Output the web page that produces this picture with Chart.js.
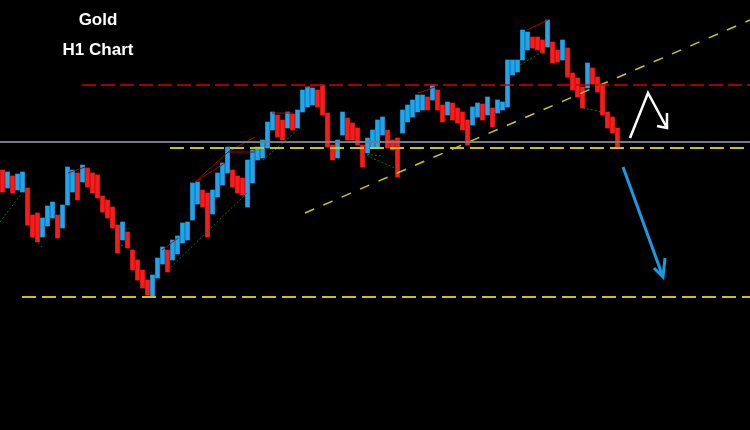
<!DOCTYPE html>
<html>
<head>
<meta charset="utf-8">
<script src="https://cdn.jsdelivr.net/npm/chart.js@4"></script>
<style>
  html, body { margin: 0; padding: 0; background: #000; }
  #wrap { position: relative; width: 750px; height: 430px; background: #000; }
  .lbl { position: absolute; left: 48px; width: 100px; text-align: center; color: #fff;
         font: bold 17px "Liberation Sans", Arial, sans-serif; line-height: 17px; }
</style>
</head>
<body>
<div id="wrap">
  <canvas id="goldChart"></canvas>
  <div class="lbl" style="top:11px">Gold</div>
  <div class="lbl" style="top:41px">H1 Chart</div>
</div>
<script>
// hourly candles (one per hour), high / low prices
const highs = [
  1946.0, 1945.6, 1944.8, 1945.2, 1945.6, 1942.4, 1937.0, 1937.4, 1936.4, 1938.8,
  1939.6, 1937.0, 1939.0, 1946.6, 1946.0, 1945.4, 1947.0, 1946.4, 1945.4, 1945.0,
  1940.8, 1940.0, 1938.6, 1935.0, 1935.6, 1933.6, 1930.0, 1928.0, 1926.0, 1924.0,
  1925.0, 1928.4, 1930.6, 1930.0, 1932.0, 1932.8, 1935.4, 1935.6, 1943.4, 1943.6,
  1942.0, 1941.4, 1942.0, 1945.4, 1947.4, 1950.6, 1946.0, 1944.8, 1944.4, 1948.0,
  1950.0, 1950.6, 1952.0, 1955.6, 1957.6, 1957.0, 1956.0, 1957.6, 1957.2, 1958.0,
  1962.0, 1962.6, 1962.4, 1962.0, 1963.0, 1957.4, 1951.0, 1952.0, 1957.6, 1956.4,
  1955.4, 1954.4, 1951.0, 1952.4, 1954.0, 1956.0, 1956.6, 1954.0, 1952.0, 1952.4,
  1958.0, 1959.0, 1960.0, 1961.0, 1961.0, 1960.6, 1963.0, 1962.0, 1959.0, 1959.6,
  1959.4, 1958.4, 1957.6, 1956.0, 1958.6, 1959.4, 1959.2, 1960.6, 1958.4, 1960.0,
  1959.6, 1968.0, 1968.0, 1968.0, 1974.0, 1973.6, 1972.6, 1972.6, 1972.0, 1976.0,
  1971.6, 1970.0, 1972.0, 1970.4, 1965.4, 1964.4, 1962.6, 1967.4, 1966.4, 1964.6,
  1963.0, 1957.6, 1956.6, 1954.4
];
const lows = [
  1941.6, 1942.4, 1941.4, 1942.0, 1941.6, 1935.0, 1932.6, 1931.6, 1932.6, 1934.8,
  1936.4, 1932.4, 1934.4, 1939.0, 1941.6, 1940.0, 1943.6, 1942.6, 1941.4, 1940.4,
  1937.6, 1936.4, 1934.4, 1929.4, 1932.0, 1930.4, 1926.0, 1924.0, 1922.4, 1921.0,
  1920.6, 1924.4, 1927.2, 1925.6, 1928.0, 1929.2, 1931.4, 1932.0, 1936.0, 1939.2,
  1938.6, 1932.6, 1937.2, 1940.6, 1943.0, 1945.4, 1942.6, 1941.4, 1941.0, 1938.6,
  1943.4, 1948.0, 1948.4, 1950.4, 1954.0, 1952.6, 1952.0, 1954.4, 1954.0, 1954.4,
  1957.6, 1958.6, 1959.0, 1958.6, 1957.0, 1950.6, 1948.0, 1948.4, 1953.0, 1952.0,
  1952.0, 1951.0, 1946.6, 1949.4, 1950.4, 1950.6, 1953.0, 1950.4, 1950.0, 1944.6,
  1953.4, 1955.6, 1956.6, 1957.6, 1958.0, 1958.0, 1960.0, 1958.0, 1955.6, 1957.0,
  1956.0, 1955.4, 1954.0, 1951.0, 1955.0, 1956.6, 1956.0, 1957.0, 1954.6, 1957.4,
  1958.0, 1958.6, 1965.0, 1965.6, 1968.0, 1970.0, 1970.4, 1970.0, 1969.4, 1970.6,
  1967.4, 1967.6, 1968.0, 1964.6, 1962.0, 1960.6, 1958.4, 1962.4, 1963.2, 1961.6,
  1957.0, 1954.4, 1953.4, 1950.6
];

// horizontal levels and trend line (hour, price)
const resistance = [[16.4, 1963.0], [150, 1963.0]];
const bidLine = [[0, 1951.6], [150, 1951.6]];
const pivot = [[34, 1950.4], [150, 1950.4]];
const support = [[4.4, 1920.6], [150, 1920.6]];
const trend = [[61, 1937.4], [150, 1976.0]];

// zigzag swing lines, null breaks the segments
const redSwings = [
  [13.6, 1945.4], [17, 1946.6], null,
  [32.4, 1930.0], [35.6, 1932.4], null,
  [39, 1943.6], [45.6, 1949.6], [51, 1952.6], null,
  [39, 1943.6], [45, 1947.4], null,
  [45.6, 1949.6], [51, 1949.6], null,
  [54.4, 1957.4], [58.6, 1957.4], null,
  [61, 1962.6], [64.4, 1963.0], null,
  [83.6, 1961.4], [87, 1962.6], null,
  [105.4, 1974.0], [109.6, 1976.0]
];
const greenSwings = [
  [0, 1935.6], [4.4, 1941.4], null,
  [6.6, 1932.6], [8.4, 1930.6], null,
  [23.4, 1931.0], [26, 1930.8], null,
  [27.4, 1924.0], [29.6, 1921.6], null,
  [33.6, 1926.0], [49.4, 1941.4], null,
  [52.6, 1948.0], [60, 1954.4], null,
  [72.6, 1949.2], [76.4, 1948.8], null,
  [72.6, 1949.2], [79.4, 1946.2], null,
  [104, 1967.0], [109, 1970.0], null,
  [116.6, 1958.4], [120.4, 1957.6]
];

// hand drawn arrows
const bounceArrow = [[126, 1952.4], [129.6, 1961.4], [133.4, 1954.4], null,
                     [133.4, 1957.4], [133.4, 1954.4], [131.4, 1954.8]];
const dropArrow = [[124.6, 1946.6], [132.6, 1924.6], null,
                   [133, 1928.4], [132.6, 1924.6], [130.8, 1926.4]];

const UP = '#1ea5ec';
const DOWN = '#ff1a1a';

const toPts = (arr) => arr.map((p) => (p ? { x: p[0], y: p[1] } : { x: null, y: null }));

const candles = highs.map((h, i) => ({ x: i + 0.5, y: [lows[i], h] }));
const candleColors = highs.map((h, i) => {
  if (i === 0) return DOWN;
  return h + lows[i] >= highs[i - 1] + lows[i - 1] ? UP : DOWN;
});

function line(label, pts, color, width, dash) {
  return {
    type: 'line',
    label: label,
    data: toPts(pts),
    borderColor: color,
    borderWidth: width,
    borderDash: dash || [],
    pointRadius: 0,
    fill: false,
    spanGaps: false,
    tension: 0,
    order: 1,
  };
}

const config = {
  type: 'bar',
  data: {
    datasets: [
      line('Drop', dropArrow, '#1a9be0', 3),
      line('Bounce', bounceArrow, '#ffffff', 2.5),
      line('Resistance', resistance, '#d40000', 1.5, [14, 5]),
      line('Bid', bidLine, '#767a84', 2),
      line('Pivot', pivot, '#c8c800', 2, [14, 6]),
      line('Support', support, '#c8c800', 2, [14, 6]),
      line('Trend', trend, '#c8c814', 1.5, [10, 10]),
      line('Red swings', redSwings, '#b00000', 1),
      line('Green swings', greenSwings, '#0b7a0b', 1, [2, 2]),
      {
        label: 'Gold H1',
        data: candles,
        backgroundColor: candleColors,
        borderWidth: 0,
        barThickness: 4,
        order: 5,
      },
    ],
  },
  options: {
    responsive: true,
    maintainAspectRatio: false,
    animation: false,
    layout: { padding: 0 },
    plugins: { legend: { display: false }, tooltip: { enabled: false } },
    scales: {
      x: { type: 'linear', min: 0, max: 150, offset: false, display: false },
      y: { min: 1894, max: 1980, display: false },
    },
  },
};

new Chart(document.getElementById('goldChart').getContext('2d'), config);
</script>
</body>
</html>
